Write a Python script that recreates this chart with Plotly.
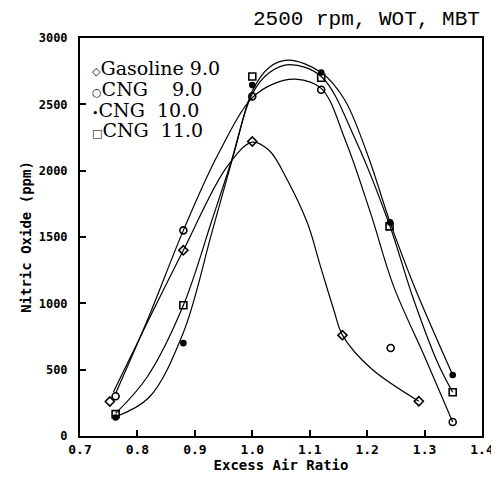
import plotly.graph_objects as go

# measured points
gas_x = [0.752, 0.88, 1.0, 1.157, 1.29]
gas_y = [260, 1400, 2220, 760, 262]
cng9_x = [0.762, 0.88, 1.0, 1.12, 1.241, 1.349]
cng9_y = [300, 1550, 2560, 2610, 663, 105]
cng10_x = [0.762, 0.88, 1.0, 1.12, 1.24, 1.349]
cng10_y = [140, 700, 2645, 2740, 1610, 460]
cng11_x = [0.762, 0.88, 1.0, 1.12, 1.239, 1.349]
cng11_y = [165, 985, 2710, 2700, 1580, 330]

# fitted curves
gas_fit_x = [0.758, 0.82, 0.88, 0.956, 1.0, 1.03, 1.061, 1.096, 1.119, 1.142, 1.157, 1.206, 1.29]
gas_fit_y = [330, 880, 1400, 2030, 2215, 2150, 1930, 1605, 1275, 950, 760, 512, 262]
cng9_fit_x = [0.762, 0.82, 0.88, 0.94, 1.0, 1.04, 1.075, 1.12, 1.162, 1.206, 1.246, 1.3, 1.349]
cng9_fit_y = [320, 900, 1550, 2120, 2550, 2660, 2690, 2620, 2230, 1680, 1130, 600, 105]
cng10_fit_x = [0.762, 0.82, 0.88, 0.93, 0.97, 1.0, 1.03, 1.063, 1.12, 1.16, 1.2, 1.24, 1.28, 1.349]
cng10_fit_y = [145, 290, 780, 1540, 2160, 2600, 2780, 2833, 2740, 2540, 2130, 1610, 1150, 460]
cng11_fit_x = [0.762, 0.817, 0.88, 0.93, 0.962, 1.0, 1.03, 1.065, 1.12, 1.18, 1.239, 1.28, 1.323, 1.349]
cng11_fit_y = [170, 445, 985, 1630, 2050, 2580, 2740, 2800, 2710, 2230, 1590, 1040, 550, 330]

x_ticks = [0.7, 0.8, 0.9, 1.0, 1.1, 1.2, 1.3, 1.4]
y_ticks = [0, 500, 1000, 1500, 2000, 2500, 3000]

nb = "\u00a0"
series = [
    ("Gasoline 9.0", "◇", gas_x, gas_y, gas_fit_x, gas_fit_y, "diamond-open", 7),
    ("CNG" + nb * 4 + "9.0", "○", cng9_x, cng9_y, cng9_fit_x, cng9_fit_y, "circle-open", 7),
    ("CNG" + nb * 2 + "10.0", "•", cng10_x, cng10_y, cng10_fit_x, cng10_fit_y, "circle", 5),
    ("CNG" + nb * 2 + "11.0", "□", cng11_x, cng11_y, cng11_fit_x, cng11_fit_y, "square-open", 7),
]
legend_y = [0.925, 0.872, 0.819, 0.768]

fig = go.Figure()
for (name, glyph, px_, py_, fx, fy, sym, sz), ly in zip(series, legend_y):
    fig.add_trace(go.Scatter(
        x=fx, y=fy, mode='lines',
        line=dict(color='black', width=1.2, shape='spline', smoothing=1.0),
        showlegend=False, hoverinfo='skip'
    ))
    fig.add_trace(go.Scatter(
        x=px_, y=py_, mode='markers', name=name, showlegend=False,
        marker=dict(symbol=sym, size=sz, color='black',
                    line=dict(color='black', width=1.6)),
    ))
    # legend drawn as text, symbol tight against the label like the original
    fig.add_annotation(
        text=f'<span style="font-size:11px">{glyph}</span>{name}',
        xref='paper', yref='paper', x=0.025, y=ly,
        xanchor='left', yanchor='middle', showarrow=False,
        font=dict(family='DejaVu Serif', size=19, color='black')
    )

fig.add_annotation(
    text="2500 rpm, WOT, MBT", xref='paper', yref='paper',
    x=1.0, y=1.0, xanchor='right', yanchor='bottom', yshift=5,
    showarrow=False,
    font=dict(family='Liberation Mono', size=21, color='black')
)

# page body has an 8px margin, so the figure is a bit smaller than the window
fig.update_layout(
    width=491, height=471,
    margin=dict(l=72, r=17, t=30, b=43),
    plot_bgcolor='white',
    paper_bgcolor='white',
    font=dict(family='DejaVu Sans', color='black'),
)
fig.update_xaxes(
    range=[0.7, 1.4], tickvals=x_ticks,
    ticktext=[f"{v:.1f}" for v in x_ticks],
    showgrid=False, zeroline=False, automargin=False,
    showline=True, mirror=True, linecolor='black', linewidth=2,
    ticks='inside', ticklen=6, tickwidth=1.5, tickcolor='black',
    tickfont=dict(family='DejaVu Sans Mono', size=13, weight='bold'),
    title=dict(text="Excess Air Ratio", standoff=0,
               font=dict(family='DejaVu Sans Mono', size=14, weight='bold')),
)
fig.update_yaxes(
    range=[0, 3000], tickvals=y_ticks,
    showgrid=False, zeroline=False, automargin=False,
    showline=True, mirror=True, linecolor='black', linewidth=2,
    ticks='inside', ticklen=6, tickwidth=1.5, tickcolor='black',
    ticklabelstandoff=8,
    tickfont=dict(family='DejaVu Sans Mono', size=12, weight='bold'),
    title=dict(text="Nitric Oxide (ppm)", standoff=4,
               font=dict(family='DejaVu Sans Mono', size=14, weight='bold')),
)

fig.write_html("out.html")
